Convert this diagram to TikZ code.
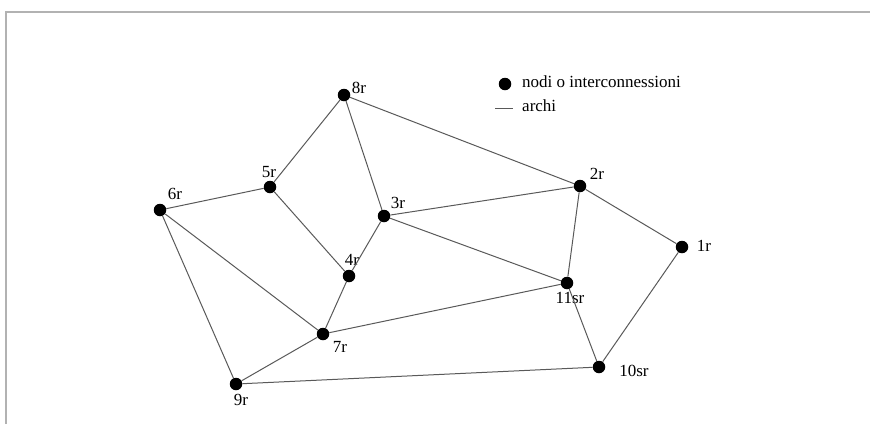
\documentclass[tikz,border=0pt]{standalone}
\usepackage{fontspec}
\setmainfont{Liberation Serif}
\begin{document}
\begin{tikzpicture}[x=1pt,y=-1pt,
  nd/.style={circle,fill=black,inner sep=0pt,minimum size=12.5pt},
  lbl/.style={font=\fontsize{17}{19}\selectfont,inner sep=1pt},
  edge/.style={draw=black!65,line width=1pt},
  frame/.style={draw=black!30,line width=2.5pt}]
\useasboundingbox (0,0) rectangle (870,424);
\draw[frame] (6,424) -- (6,12) -- (870,12);
% nodes
\node[nd] (n8) at (344,95) {};
\node[nd] (n5) at (270,187) {};
\node[nd] (n6) at (160,210) {};
\node[nd] (n3) at (384,216) {};
\node[nd] (n2) at (580,186) {};
\node[nd] (n1) at (682,247) {};
\node[nd] (n4) at (349,276) {};
\node[nd] (n11) at (567,283) {};
\node[nd] (n7) at (323,334) {};
\node[nd] (n10) at (599,367) {};
\node[nd] (n9) at (236,384) {};
% labels
\node[lbl] (l8) at (359,88) {8r};
\node[lbl] (l5) at (269,172) {5r};
\node[lbl] (l6) at (175,194) {6r};
\node[lbl] (l3) at (398,203) {3r};
\node[lbl] (l2) at (597,174) {2r};
\node[lbl] (l1) at (704,246) {1r};
\node[lbl] (l4) at (352,260) {4r};
\node[lbl] (l11) at (570,298) {11sr};
\node[lbl] (l7) at (340,347) {7r};
\node[lbl] (l10) at (634,371) {10sr};
\node[lbl] (l9) at (241,400) {9r};
% edges
\path[edge] (n8) -- (n5);
\path[edge] (n8) -- (n3);
\path[edge] (n8) -- (n2);
\path[edge] (n5) -- (n6);
\path[edge] (n5) -- (n4);
\path[edge] (n6) -- (n7);
\path[edge] (n6) -- (n9);
\path[edge] (n3) -- (n2);
\path[edge] (n3) -- (n4);
\path[edge] (n3) -- (n11);
\path[edge] (n2) -- (n11);
\path[edge] (n2) -- (n1);
\path[edge] (n1) -- (n10);
\path[edge] (n4) -- (n7);
\path[edge] (n7) -- (n11);
\path[edge] (n7) -- (n9);
\path[edge] (n11) -- (n10);
\path[edge] (n9) -- (n10);
% legend
\node[nd] (ld) at (505,84) {};
\node[lbl,anchor=west] (lt1) at (521,82) {nodi o interconnessioni};
\coordinate (la) at (495,108);
\coordinate (lb) at (513,108);
\path[edge] (la) -- (lb);
\node[lbl,anchor=west] (lt2) at (521,106) {archi};
\end{tikzpicture}
\end{document}
